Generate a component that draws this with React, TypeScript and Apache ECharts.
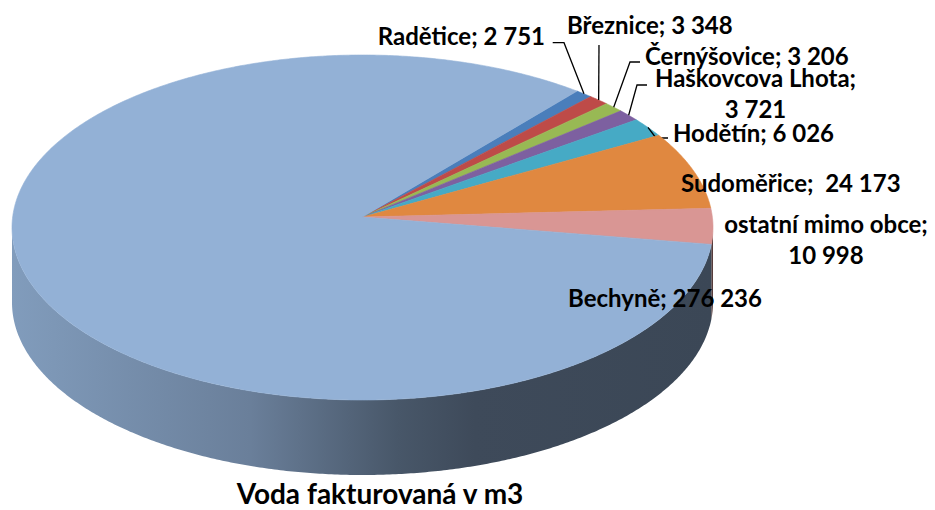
import React, { useEffect, useRef } from "react";
import * as echarts from "echarts";

// ---- data ----
const categories = [
  "Radětice",
  "Březnice",
  "Černýšovice",
  "Haškovcova Lhota",
  "Hodětín",
  "Sudoměřice",
  "ostatní mimo obce",
  "Bechyně",
];
const values = [2751, 3348, 3206, 3721, 6026, 24173, 10998, 276236];
const colors = ["#4A7EBB", "#BE4B48", "#98B954", "#7D60A0", "#46AAC5", "#E08840", "#D99694", "#93B1D6"];
const chartTitle = "Voda fakturovaná v m3";

// ---- layout ----
const GEO = { cx: 362.5, cy: 227.5, rx: 350.5, ry: 172.5, apexY: 217, depth: 75, startAngle: 50 };
const LABEL_FONT = "bold 24px Lato";
const TITLE_FONT = "bold 28px Lato";
const LINE_GAP = 31;
type LabelLayout = { x: number; y: number; align: string; sep: string; leader: number[][] | null };
const LABEL_LAYOUT: LabelLayout[] = [
  { x: 545, y: 35, align: "right", sep: " ", leader: [[564, 42.7], [552.7, 42.7]] },
  { x: 567, y: 24, align: "left", sep: " ", leader: [[599, 45]] },
  { x: 645, y: 55, align: "left", sep: " ", leader: [[630, 62], [640, 62]] },
  { x: 755.5, y: 92.5, align: "center", sep: "\n", leader: [[637, 85], [647, 85]] },
  { x: 673, y: 132, align: "left", sep: " ", leader: [[656, 138], [668, 138]] },
  { x: 681, y: 182, align: "left", sep: "  ", leader: null },
  { x: 826, y: 239, align: "center", sep: "\n", leader: null },
  { x: 568, y: 297, align: "left", sep: " ", leader: null },
];

const fmt = (v: number) => String(v).replace(/\B(?=(\d{3})+(?!\d))/g, " ");

const total = values.reduce((a, b) => a + b, 0);
const cumStart: number[] = [];
const cumEnd: number[] = [];
values.reduce((acc, v) => {
  cumStart.push(acc / total);
  cumEnd.push((acc + v) / total);
  return acc + v;
}, 0);

function hexToRgb(h: string) {
  const n = parseInt(h.slice(1), 16);
  return [(n >> 16) & 255, (n >> 8) & 255, n & 255];
}
function shade(h: string, f: number) {
  const [r, g, b] = hexToRgb(h);
  return `rgb(${Math.round(r * f)},${Math.round(g * f)},${Math.round(b * f)})`;
}

const toRad = (d: number) => (d * Math.PI) / 180;
function rim(theta: number) {
  const { cx, cy, rx, ry, apexY } = GEO;
  const s = Math.sin(toRad(theta));
  const c = Math.cos(toRad(theta));
  const u = (apexY - cy) / ry;
  const t = u * s + Math.sqrt(u * u * s * s - u * u + 1);
  return [cx + rx * t * c, apexY - ry * t * s];
}
function phiOf(theta: number) {
  const { cx, cy, rx, ry } = GEO;
  const [x, y] = rim(theta);
  const raw = (Math.atan2(-(y - cy) / ry, (x - cx) / rx) * 180) / Math.PI;
  let d = raw - theta;
  while (d > 180) d -= 360;
  while (d <= -180) d += 360;
  return theta + d;
}

export default function App() {
  const ref = useRef<HTMLDivElement>(null);
  useEffect(() => {
    document.body.style.margin = "0";
    if (!ref.current) return;
    const chart = echarts.init(ref.current, null, { renderer: "svg" });
    const data = values.map((v, i) => [v, cumStart[i], cumEnd[i]]);

    const renderItem = (params: any, api: any) => {
      const i = params.dataIndex;
      const { cx, cy, rx, ry, apexY, depth, startAngle } = GEO;
      const ts = startAngle - 360 * api.value(1);
      const te = startAngle - 360 * api.value(2);
      const color = colors[i];
      const children: any[] = [];

      // side (front wall)
      const ps = phiOf(ts);
      const pe = phiOf(te);
      for (const k of [0, -360]) {
        const hi = Math.min(ps, k);
        const lo = Math.max(pe, -180 + k);
        if (hi > lo) {
          const top: number[][] = [];
          const n = Math.max(2, Math.ceil((hi - lo) / 0.5));
          for (let j = 0; j <= n; j++) {
            const p = toRad(hi - ((hi - lo) * j) / n);
            top.push([cx + rx * Math.cos(p), cy - ry * Math.sin(p)]);
          }
          const bottom = top.map(([x, y]) => [x, y + depth]).reverse();
          const grad = new echarts.graphic.LinearGradient(
            cx - rx,
            0,
            cx + rx,
            0,
            [
              { offset: 0, color: shade(color, 0.88) },
              { offset: 0.34, color: shade(color, 0.72) },
              { offset: 0.55, color: shade(color, 0.49) },
              { offset: 0.66, color: shade(color, 0.42) },
              { offset: 1, color: shade(color, 0.4) },
            ],
            true
          );
          children.push({
            type: "polygon",
            shape: { points: top.concat(bottom) },
            style: { fill: grad, stroke: null },
          });
        }
      }

      // top face
      const pts: number[][] = [[cx, apexY]];
      const n = Math.max(2, Math.ceil(Math.abs(ts - te) / 0.5));
      for (let j = 0; j <= n; j++) pts.push(rim(ts + ((te - ts) * j) / n));
      children.push({
        type: "polygon",
        shape: { points: pts },
        style: { fill: color, stroke: color, lineWidth: 0.6 },
      });

      // label + leader
      const L = LABEL_LAYOUT[i];
      if (L.leader) {
        const m = rim((ts + te) / 2);
        children.push({
          type: "polyline",
          shape: { points: [m, ...L.leader] },
          style: { stroke: "#000", lineWidth: 1.3, fill: null },
        });
      }
      const lines = `${categories[i]};${L.sep}${fmt(api.value(0))}`.split("\n");
      lines.forEach((line, li) => {
        children.push({
          type: "text",
          x: L.x,
          y: L.y + (li - (lines.length - 1) / 2) * LINE_GAP,
          style: {
            text: line,
            font: LABEL_FONT,
            fill: "#000",
            align: L.align,
            verticalAlign: "middle",
            lineHeight: 20,
          },
        });
      });
      return { type: "group", children };
    };

    chart.setOption({
      animation: false,
      graphic: [
        {
          type: "text",
          x: 380,
          y: 493,
          style: {
            text: chartTitle,
            font: TITLE_FONT,
            fill: "#000",
            align: "center",
            verticalAlign: "middle",
            lineHeight: 24,
          },
        },
      ],
      series: [
        {
          type: "custom",
          coordinateSystem: "none",
          renderItem,
          data,
          silent: true,
        },
      ],
    });
    return () => chart.dispose();
  }, []);
  return <div ref={ref} style={{ width: 935, height: 510 }} />;
}
